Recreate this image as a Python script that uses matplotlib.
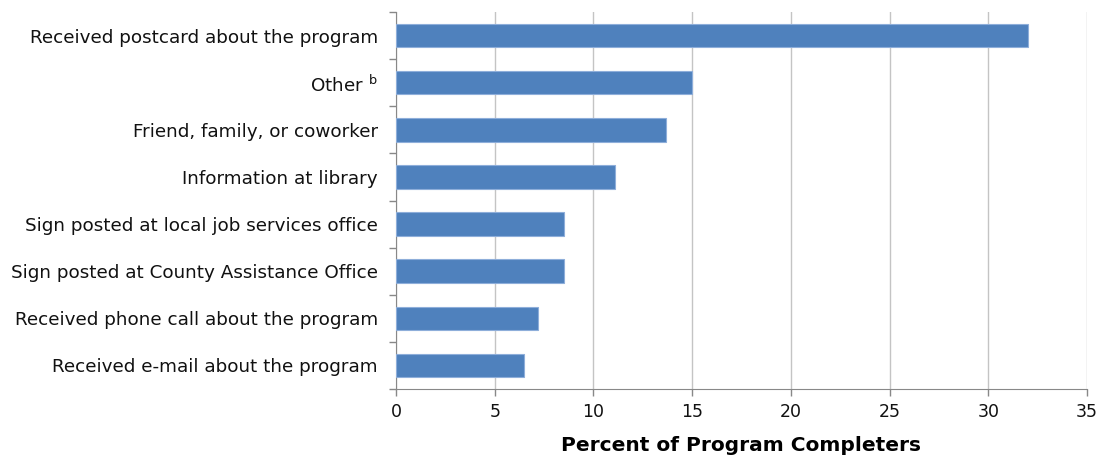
import matplotlib
matplotlib.use("Agg")
import matplotlib.pyplot as plt
import numpy as np

categories = [
    "Received postcard about the program",
    "Other $^{\\mathrm{b}}$",
    "Friend, family, or coworker",
    "Information at library",
    "Sign posted at local job services office",
    "Sign posted at County Assistance Office",
    "Received phone call about the program",
    "Received e-mail about the program",
]
values = [32.0, 15.0, 13.7, 11.1, 8.5, 8.5, 7.2, 6.5]
xticks = [0, 5, 10, 15, 20, 25, 30, 35]

plt.rcParams['font.family'] = ['DejaVu Sans']
fig = plt.figure(figsize=(10.99, 4.55), dpi=100)
ax = fig.add_axes([0.3603, 0.145, 0.6288, 0.8286])

y = np.arange(len(categories))[::-1]
ax.barh(y, values, height=0.5, color='#4F81BD', edgecolor='#8EAEDA', linewidth=0.8, zorder=3)

ax.set_xlim(0, 35)
ax.set_ylim(-0.5, len(categories) - 0.5)
ax.set_xticks(xticks)
ax.set_xticklabels([str(t) for t in xticks], fontsize=12.5, color='#111111')
ax.set_yticks(y)
ax.set_yticklabels(categories, fontsize=13.2, color='#111111')
ax.tick_params(axis='y', length=0, pad=13)
ax.set_yticks(np.arange(-0.5, len(categories), 1.0), minor=True)
ax.tick_params(axis='y', which='minor', length=5, color='#888888', width=1)
ax.tick_params(axis='x', length=5, color='#888888', width=1, pad=5)

ax.grid(axis='x', color='#C4C4C4', linewidth=1, zorder=0)
ax.spines['top'].set_visible(False)
ax.spines['right'].set_visible(False)
ax.spines['left'].set_color('#888888')
ax.spines['bottom'].set_color('#888888')
ax.set_xlabel("Percent of Program Completers", fontsize=14.5, fontweight='bold', labelpad=11)

fig.savefig("out.png", dpi=100)
